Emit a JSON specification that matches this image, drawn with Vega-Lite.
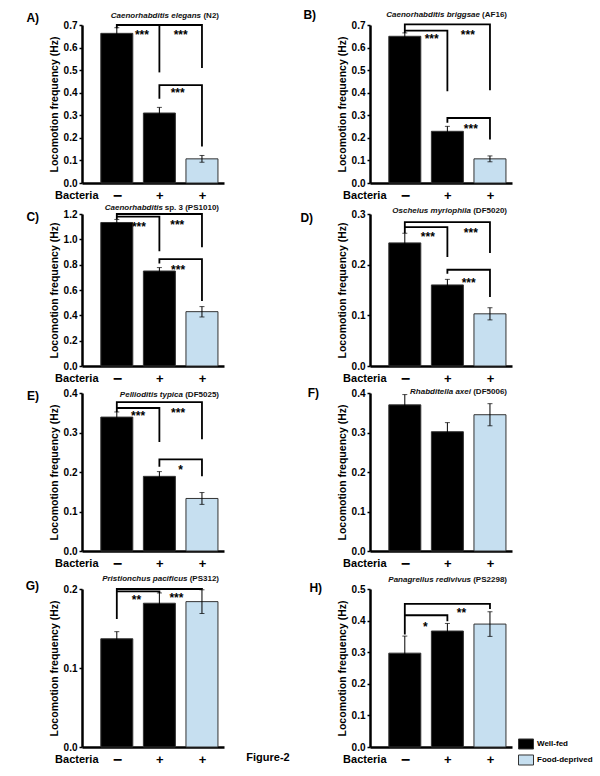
{
"$schema": "https://vega.github.io/schema/vega-lite/v6.json",
"background": "white",
"padding": {"left": 25, "top": 9, "right": 0, "bottom": 0},
"datasets": {
"bars": [
{"p":"A","x":1,"c":"Well-fed","y":0.663,"lo":0.638,"hi":0.688},
{"p":"A","x":2,"c":"Well-fed","y":0.31,"lo":0.285,"hi":0.335},
{"p":"A","x":3,"c":"Food-deprived","y":0.107,"lo":0.092,"hi":0.122},
{"p":"B","x":1,"c":"Well-fed","y":0.65,"lo":0.635,"hi":0.665},
{"p":"B","x":2,"c":"Well-fed","y":0.229,"lo":0.207,"hi":0.251},
{"p":"B","x":3,"c":"Food-deprived","y":0.107,"lo":0.094,"hi":0.12},
{"p":"C","x":1,"c":"Well-fed","y":1.133,"lo":1.109,"hi":1.157},
{"p":"C","x":2,"c":"Well-fed","y":0.75,"lo":0.723,"hi":0.777},
{"p":"C","x":3,"c":"Food-deprived","y":0.429,"lo":0.387,"hi":0.469},
{"p":"D","x":1,"c":"Well-fed","y":0.243,"lo":0.224,"hi":0.262},
{"p":"D","x":2,"c":"Well-fed","y":0.16,"lo":0.149,"hi":0.171},
{"p":"D","x":3,"c":"Food-deprived","y":0.103,"lo":0.091,"hi":0.115},
{"p":"E","x":1,"c":"Well-fed","y":0.339,"lo":0.326,"hi":0.352},
{"p":"E","x":2,"c":"Well-fed","y":0.189,"lo":0.177,"hi":0.201},
{"p":"E","x":3,"c":"Food-deprived","y":0.133,"lo":0.118,"hi":0.148},
{"p":"F","x":1,"c":"Well-fed","y":0.37,"lo":0.344,"hi":0.396},
{"p":"F","x":2,"c":"Well-fed","y":0.302,"lo":0.28,"hi":0.325},
{"p":"F","x":3,"c":"Food-deprived","y":0.345,"lo":0.317,"hi":0.373},
{"p":"G","x":1,"c":"Well-fed","y":0.137,"lo":0.128,"hi":0.146},
{"p":"G","x":2,"c":"Well-fed","y":0.182,"lo":0.169,"hi":0.195},
{"p":"G","x":3,"c":"Food-deprived","y":0.184,"lo":0.169,"hi":0.199},
{"p":"H","x":1,"c":"Well-fed","y":0.297,"lo":0.243,"hi":0.351},
{"p":"H","x":2,"c":"Well-fed","y":0.367,"lo":0.343,"hi":0.391},
{"p":"H","x":3,"c":"Food-deprived","y":0.389,"lo":0.35,"hi":0.428}
],
"brackets": [
{"p":"A","s":1,"o":1,"x":1,"y":0.686},{"p":"A","s":1,"o":2,"x":1,"y":0.7},{"p":"A","s":1,"o":3,"x":3,"y":0.7},{"p":"A","s":1,"o":4,"x":3,"y":0.51},
{"p":"A","s":2,"o":1,"x":2,"y":0.7},{"p":"A","s":2,"o":2,"x":2,"y":0.49},
{"p":"A","s":3,"o":1,"x":2,"y":0.373},{"p":"A","s":3,"o":2,"x":2,"y":0.434},{"p":"A","s":3,"o":3,"x":3,"y":0.434},{"p":"A","s":3,"o":4,"x":3,"y":0.162},
{"p":"B","s":1,"o":1,"x":1,"y":0.665},{"p":"B","s":1,"o":2,"x":1,"y":0.703},{"p":"B","s":1,"o":3,"x":3,"y":0.703},{"p":"B","s":1,"o":4,"x":3,"y":0.411},
{"p":"B","s":2,"o":1,"x":1,"y":0.675},{"p":"B","s":2,"o":2,"x":2,"y":0.675},{"p":"B","s":2,"o":3,"x":2,"y":0.407},
{"p":"B","s":3,"o":1,"x":2,"y":0.267},{"p":"B","s":3,"o":2,"x":2,"y":0.288},{"p":"B","s":3,"o":3,"x":3,"y":0.288},{"p":"B","s":3,"o":4,"x":3,"y":0.193},
{"p":"C","s":1,"o":1,"x":1,"y":1.157},{"p":"C","s":1,"o":2,"x":1,"y":1.2},{"p":"C","s":1,"o":3,"x":3,"y":1.2},{"p":"C","s":1,"o":4,"x":3,"y":0.938},
{"p":"C","s":2,"o":1,"x":1,"y":1.18},{"p":"C","s":2,"o":2,"x":2,"y":1.18},{"p":"C","s":2,"o":3,"x":2,"y":0.906},
{"p":"C","s":3,"o":1,"x":2,"y":0.809},{"p":"C","s":3,"o":2,"x":2,"y":0.844},{"p":"C","s":3,"o":3,"x":3,"y":0.844},{"p":"C","s":3,"o":4,"x":3,"y":0.514},
{"p":"D","s":1,"o":1,"x":1,"y":0.262},{"p":"D","s":1,"o":2,"x":1,"y":0.284},{"p":"D","s":1,"o":3,"x":3,"y":0.284},{"p":"D","s":1,"o":4,"x":3,"y":0.223},
{"p":"D","s":2,"o":1,"x":1,"y":0.274},{"p":"D","s":2,"o":2,"x":2,"y":0.274},{"p":"D","s":2,"o":3,"x":2,"y":0.215},
{"p":"D","s":3,"o":1,"x":2,"y":0.182},{"p":"D","s":3,"o":2,"x":2,"y":0.19},{"p":"D","s":3,"o":3,"x":3,"y":0.19},{"p":"D","s":3,"o":4,"x":3,"y":0.136},
{"p":"E","s":1,"o":1,"x":1,"y":0.352},{"p":"E","s":1,"o":2,"x":1,"y":0.377},{"p":"E","s":1,"o":3,"x":3,"y":0.377},{"p":"E","s":1,"o":4,"x":3,"y":0.283},
{"p":"E","s":2,"o":1,"x":1,"y":0.362},{"p":"E","s":2,"o":2,"x":2,"y":0.362},{"p":"E","s":2,"o":3,"x":2,"y":0.276},
{"p":"E","s":3,"o":1,"x":2,"y":0.213},{"p":"E","s":3,"o":2,"x":2,"y":0.232},{"p":"E","s":3,"o":3,"x":3,"y":0.232},{"p":"E","s":3,"o":4,"x":3,"y":0.189},
{"p":"G","s":1,"o":1,"x":1,"y":0.162},{"p":"G","s":1,"o":2,"x":1,"y":0.2},{"p":"G","s":1,"o":3,"x":3,"y":0.2},{"p":"G","s":1,"o":4,"x":3,"y":0.199},
{"p":"G","s":2,"o":1,"x":1,"y":0.197},{"p":"G","s":2,"o":2,"x":2,"y":0.197},{"p":"G","s":2,"o":3,"x":2,"y":0.195},
{"p":"H","s":1,"o":1,"x":1,"y":0.356},{"p":"H","s":1,"o":2,"x":1,"y":0.453},{"p":"H","s":1,"o":3,"x":3,"y":0.453},{"p":"H","s":1,"o":4,"x":3,"y":0.437},
{"p":"H","s":2,"o":1,"x":1,"y":0.417},{"p":"H","s":2,"o":2,"x":2,"y":0.417},{"p":"H","s":2,"o":3,"x":2,"y":0.398}
],
"stars": [
{"p":"A","x":1.59,"y":0.667,"t":"***"},{"p":"A","x":2.5,"y":0.667,"t":"***"},{"p":"A","x":2.43,"y":0.41,"t":"***"},
{"p":"B","x":1.63,"y":0.653,"t":"***"},{"p":"B","x":2.48,"y":0.671,"t":"***"},{"p":"B","x":2.55,"y":0.251,"t":"***"},
{"p":"C","x":1.52,"y":1.125,"t":"***"},{"p":"C","x":2.42,"y":1.133,"t":"***"},{"p":"C","x":2.44,"y":0.782,"t":"***"},
{"p":"D","x":1.54,"y":0.26,"t":"***"},{"p":"D","x":2.55,"y":0.268,"t":"***"},{"p":"D","x":2.5,"y":0.17,"t":"***"},
{"p":"E","x":1.5,"y":0.35,"t":"***"},{"p":"E","x":2.44,"y":0.358,"t":"***"},{"p":"E","x":2.5,"y":0.213,"t":"*"},
{"p":"G","x":1.46,"y":0.19,"t":"**"},{"p":"G","x":2.4,"y":0.193,"t":"***"},
{"p":"H","x":1.48,"y":0.39,"t":"*"},{"p":"H","x":2.33,"y":0.432,"t":"**"}
],
"titles": [
{"p":"A","sp":"Caenorhabditis elegans","st":"(N2)"},
{"p":"B","sp":"Caenorhabditis briggsae","st":"(AF16)"},
{"p":"C","sp":"Caenorhabditis","st":"sp. 3 (PS1010)"},
{"p":"D","sp":"Oscheius myriophila","st":"(DF5020)"},
{"p":"E","sp":"Pellioditis typica","st":"(DF5025)"},
{"p":"F","sp":"Rhabditella axei","st":"(DF5006)"},
{"p":"G","sp":"Pristionchus pacificus","st":"(PS312)"},
{"p":"H","sp":"Panagrellus redivivus","st":"(PS2298)"}
],
"fig": [{"label":"Figure-2"}]
},
"vconcat": [
{"vconcat": [
{"hconcat": [
{"width":142,"height":158,
"title":{"text":"A)","orient":"left","frame":"group","angle":0,"anchor":"end","align":"left","baseline":"middle","dy":-7,"offset":10},
"layer":[
{"data":{"name":"bars"},"transform":[{"filter":"datum.p == 'A'"}],"mark":{"type":"bar","orient":"vertical","size":32,"stroke":"#333","strokeWidth":1},
"encoding":{"x":{"field":"x","type":"quantitative","title":"Bacteria","scale":{"domain":[0.3,3.4],"nice":false,"zero":false},"axis":{"values":[1,2,3],"labelExpr":"datum.value == 1 ? '−' : '+'"}},
"y":{"field":"y","type":"quantitative","title":"Locomotion frequency (Hz)","stack":null,"scale":{"domain":[0,0.7],"nice":false},"axis":{"values":[0,0.1,0.2,0.3,0.4,0.5,0.6,0.7],"tickCount":20,"format":".1f","labelOverlap":false}},
"color":{"field":"c","type":"nominal","scale":{"domain":["Well-fed","Food-deprived"],"range":["#000000","#c6dff0"]},"legend":{"orient":"none","legendX":436,"legendY":711,"title":null,"symbolType":"M-1,-0.667H1V0.667H-1Z","symbolSize":225,"symbolStrokeColor":"#333","symbolStrokeWidth":1,"labelFontSize":8,"labelFontWeight":"bold","labelOffset":3,"rowPadding":0,"padding":0}}}},
{"data":{"name":"bars"},"transform":[{"filter":"datum.p == 'A'"}],"mark":{"type":"rule","color":"#000","strokeWidth":1},"encoding":{"x":{"field":"x","type":"quantitative","title":"Bacteria"},"y":{"field":"lo","type":"quantitative","title":"Locomotion frequency (Hz)"},"y2":{"field":"hi","title":"Locomotion frequency (Hz)"}}},
{"data":{"name":"bars"},"transform":[{"filter":"datum.p == 'A'"}],"mark":{"type":"tick","orient":"horizontal","size":5,"thickness":1,"color":"#000"},"encoding":{"x":{"field":"x","type":"quantitative","title":"Bacteria"},"y":{"field":"lo","type":"quantitative","title":"Locomotion frequency (Hz)"}}},
{"data":{"name":"bars"},"transform":[{"filter":"datum.p == 'A'"}],"mark":{"type":"tick","orient":"horizontal","size":5,"thickness":1,"color":"#000"},"encoding":{"x":{"field":"x","type":"quantitative","title":"Bacteria"},"y":{"field":"hi","type":"quantitative","title":"Locomotion frequency (Hz)"}}},
{"data":{"name":"brackets"},"transform":[{"filter":"datum.p == 'A'"}],"mark":{"type":"line","color":"#000","strokeWidth":1.8,"strokeJoin":"miter"},"encoding":{"x":{"field":"x","type":"quantitative","title":"Bacteria"},"y":{"field":"y","type":"quantitative","title":"Locomotion frequency (Hz)"},"detail":{"field":"s"},"order":{"field":"o"}}},
{"data":{"name":"stars"},"transform":[{"filter":"datum.p == 'A'"}],"mark":{"type":"text","fontSize":12,"fontWeight":"bold","baseline":"middle","dy":3,"color":"#000"},"encoding":{"x":{"field":"x","type":"quantitative","title":"Bacteria"},"y":{"field":"y","type":"quantitative","title":"Locomotion frequency (Hz)"},"text":{"field":"t"}}},
{"data":{"name":"titles"},"transform":[{"filter":"datum.p == 'A'"}],"mark":{"type":"text","fontSize":8,"fontWeight":"bold","fontStyle":"italic","align":"right","baseline":"middle","dx":-18,"dy":-9,"color":"#111"},"encoding":{"x":{"datum":3.4,"type":"quantitative"},"y":{"datum":0.7,"type":"quantitative"},"text":{"field":"sp"}}},
{"data":{"name":"titles"},"transform":[{"filter":"datum.p == 'A'"}],"mark":{"type":"text","fontSize":8,"fontWeight":"bold","align":"right","baseline":"middle","dy":-9,"color":"#111"},"encoding":{"x":{"datum":3.4,"type":"quantitative"},"y":{"datum":0.7,"type":"quantitative"},"text":{"field":"st"}}}
]},
{"width":142,"height":158,
"title":{"text":"B)","orient":"left","frame":"group","angle":0,"anchor":"end","align":"left","baseline":"middle","dy":-10,"offset":21},
"layer":[
{"data":{"name":"bars"},"transform":[{"filter":"datum.p == 'B'"}],"mark":{"type":"bar","orient":"vertical","size":32,"stroke":"#333","strokeWidth":1},
"encoding":{"x":{"field":"x","type":"quantitative","title":"Bacteria","scale":{"domain":[0.3,3.4],"nice":false,"zero":false},"axis":{"values":[1,2,3],"labelExpr":"datum.value == 1 ? '−' : '+'"}},
"y":{"field":"y","type":"quantitative","title":"Locomotion frequency (Hz)","stack":null,"scale":{"domain":[0,0.7],"nice":false},"axis":{"values":[0,0.1,0.2,0.3,0.4,0.5,0.6,0.7],"tickCount":20,"format":".1f","labelOverlap":false}},
"color":{"field":"c","type":"nominal","scale":{"domain":["Well-fed","Food-deprived"],"range":["#000000","#c6dff0"]},"legend":{"orient":"none","legendX":436,"legendY":711,"title":null,"symbolType":"M-1,-0.667H1V0.667H-1Z","symbolSize":225,"symbolStrokeColor":"#333","symbolStrokeWidth":1,"labelFontSize":8,"labelFontWeight":"bold","labelOffset":3,"rowPadding":0,"padding":0}}}},
{"data":{"name":"bars"},"transform":[{"filter":"datum.p == 'B'"}],"mark":{"type":"rule","color":"#000","strokeWidth":1},"encoding":{"x":{"field":"x","type":"quantitative","title":"Bacteria"},"y":{"field":"lo","type":"quantitative","title":"Locomotion frequency (Hz)"},"y2":{"field":"hi","title":"Locomotion frequency (Hz)"}}},
{"data":{"name":"bars"},"transform":[{"filter":"datum.p == 'B'"}],"mark":{"type":"tick","orient":"horizontal","size":5,"thickness":1,"color":"#000"},"encoding":{"x":{"field":"x","type":"quantitative","title":"Bacteria"},"y":{"field":"lo","type":"quantitative","title":"Locomotion frequency (Hz)"}}},
{"data":{"name":"bars"},"transform":[{"filter":"datum.p == 'B'"}],"mark":{"type":"tick","orient":"horizontal","size":5,"thickness":1,"color":"#000"},"encoding":{"x":{"field":"x","type":"quantitative","title":"Bacteria"},"y":{"field":"hi","type":"quantitative","title":"Locomotion frequency (Hz)"}}},
{"data":{"name":"brackets"},"transform":[{"filter":"datum.p == 'B'"}],"mark":{"type":"line","color":"#000","strokeWidth":1.8,"strokeJoin":"miter"},"encoding":{"x":{"field":"x","type":"quantitative","title":"Bacteria"},"y":{"field":"y","type":"quantitative","title":"Locomotion frequency (Hz)"},"detail":{"field":"s"},"order":{"field":"o"}}},
{"data":{"name":"stars"},"transform":[{"filter":"datum.p == 'B'"}],"mark":{"type":"text","fontSize":12,"fontWeight":"bold","baseline":"middle","dy":3,"color":"#000"},"encoding":{"x":{"field":"x","type":"quantitative","title":"Bacteria"},"y":{"field":"y","type":"quantitative","title":"Locomotion frequency (Hz)"},"text":{"field":"t"}}},
{"data":{"name":"titles"},"transform":[{"filter":"datum.p == 'B'"}],"mark":{"type":"text","fontSize":8,"fontWeight":"bold","fontStyle":"italic","align":"right","baseline":"middle","dx":-27,"dy":-10,"color":"#111"},"encoding":{"x":{"datum":3.4,"type":"quantitative"},"y":{"datum":0.7,"type":"quantitative"},"text":{"field":"sp"}}},
{"data":{"name":"titles"},"transform":[{"filter":"datum.p == 'B'"}],"mark":{"type":"text","fontSize":8,"fontWeight":"bold","align":"right","baseline":"middle","dy":-10,"color":"#111"},"encoding":{"x":{"datum":3.4,"type":"quantitative"},"y":{"datum":0.7,"type":"quantitative"},"text":{"field":"st"}}}
]}
],"spacing":146,"bounds":"flush"},
{"hconcat": [
{"width":142,"height":152,
"title":{"text":"C)","orient":"left","frame":"group","angle":0,"anchor":"end","align":"left","baseline":"middle","dy":3,"offset":10},
"layer":[
{"data":{"name":"bars"},"transform":[{"filter":"datum.p == 'C'"}],"mark":{"type":"bar","orient":"vertical","size":32,"stroke":"#333","strokeWidth":1},
"encoding":{"x":{"field":"x","type":"quantitative","title":"Bacteria","scale":{"domain":[0.3,3.4],"nice":false,"zero":false},"axis":{"values":[1,2,3],"labelExpr":"datum.value == 1 ? '−' : '+'"}},
"y":{"field":"y","type":"quantitative","title":"Locomotion frequency (Hz)","stack":null,"scale":{"domain":[0,1.2],"nice":false},"axis":{"values":[0,0.2,0.4,0.6,0.8,1.0,1.2],"tickCount":20,"format":".1f","labelOverlap":false}},
"color":{"field":"c","type":"nominal","scale":{"domain":["Well-fed","Food-deprived"],"range":["#000000","#c6dff0"]},"legend":{"orient":"none","legendX":436,"legendY":711,"title":null,"symbolType":"M-1,-0.667H1V0.667H-1Z","symbolSize":225,"symbolStrokeColor":"#333","symbolStrokeWidth":1,"labelFontSize":8,"labelFontWeight":"bold","labelOffset":3,"rowPadding":0,"padding":0}}}},
{"data":{"name":"bars"},"transform":[{"filter":"datum.p == 'C'"}],"mark":{"type":"rule","color":"#000","strokeWidth":1},"encoding":{"x":{"field":"x","type":"quantitative","title":"Bacteria"},"y":{"field":"lo","type":"quantitative","title":"Locomotion frequency (Hz)"},"y2":{"field":"hi","title":"Locomotion frequency (Hz)"}}},
{"data":{"name":"bars"},"transform":[{"filter":"datum.p == 'C'"}],"mark":{"type":"tick","orient":"horizontal","size":5,"thickness":1,"color":"#000"},"encoding":{"x":{"field":"x","type":"quantitative","title":"Bacteria"},"y":{"field":"lo","type":"quantitative","title":"Locomotion frequency (Hz)"}}},
{"data":{"name":"bars"},"transform":[{"filter":"datum.p == 'C'"}],"mark":{"type":"tick","orient":"horizontal","size":5,"thickness":1,"color":"#000"},"encoding":{"x":{"field":"x","type":"quantitative","title":"Bacteria"},"y":{"field":"hi","type":"quantitative","title":"Locomotion frequency (Hz)"}}},
{"data":{"name":"brackets"},"transform":[{"filter":"datum.p == 'C'"}],"mark":{"type":"line","color":"#000","strokeWidth":1.8,"strokeJoin":"miter"},"encoding":{"x":{"field":"x","type":"quantitative","title":"Bacteria"},"y":{"field":"y","type":"quantitative","title":"Locomotion frequency (Hz)"},"detail":{"field":"s"},"order":{"field":"o"}}},
{"data":{"name":"stars"},"transform":[{"filter":"datum.p == 'C'"}],"mark":{"type":"text","fontSize":12,"fontWeight":"bold","baseline":"middle","dy":3,"color":"#000"},"encoding":{"x":{"field":"x","type":"quantitative","title":"Bacteria"},"y":{"field":"y","type":"quantitative","title":"Locomotion frequency (Hz)"},"text":{"field":"t"}}},
{"data":{"name":"titles"},"transform":[{"filter":"datum.p == 'C'"}],"mark":{"type":"text","fontSize":8,"fontWeight":"bold","fontStyle":"italic","align":"right","baseline":"middle","dx":-56,"dy":-6,"color":"#111"},"encoding":{"x":{"datum":3.4,"type":"quantitative"},"y":{"datum":1.2,"type":"quantitative"},"text":{"field":"sp"}}},
{"data":{"name":"titles"},"transform":[{"filter":"datum.p == 'C'"}],"mark":{"type":"text","fontSize":8,"fontWeight":"bold","align":"right","baseline":"middle","dy":-6,"color":"#111"},"encoding":{"x":{"datum":3.4,"type":"quantitative"},"y":{"datum":1.2,"type":"quantitative"},"text":{"field":"st"}}}
]},
{"width":142,"height":152,
"title":{"text":"D)","orient":"left","frame":"group","angle":0,"anchor":"end","align":"left","baseline":"middle","dy":4,"offset":24},
"layer":[
{"data":{"name":"bars"},"transform":[{"filter":"datum.p == 'D'"}],"mark":{"type":"bar","orient":"vertical","size":32,"stroke":"#333","strokeWidth":1},
"encoding":{"x":{"field":"x","type":"quantitative","title":"Bacteria","scale":{"domain":[0.3,3.4],"nice":false,"zero":false},"axis":{"values":[1,2,3],"labelExpr":"datum.value == 1 ? '−' : '+'"}},
"y":{"field":"y","type":"quantitative","title":"Locomotion frequency (Hz)","stack":null,"scale":{"domain":[0,0.3],"nice":false},"axis":{"values":[0,0.1,0.2,0.3],"tickCount":20,"format":".1f","labelOverlap":false}},
"color":{"field":"c","type":"nominal","scale":{"domain":["Well-fed","Food-deprived"],"range":["#000000","#c6dff0"]},"legend":{"orient":"none","legendX":436,"legendY":711,"title":null,"symbolType":"M-1,-0.667H1V0.667H-1Z","symbolSize":225,"symbolStrokeColor":"#333","symbolStrokeWidth":1,"labelFontSize":8,"labelFontWeight":"bold","labelOffset":3,"rowPadding":0,"padding":0}}}},
{"data":{"name":"bars"},"transform":[{"filter":"datum.p == 'D'"}],"mark":{"type":"rule","color":"#000","strokeWidth":1},"encoding":{"x":{"field":"x","type":"quantitative","title":"Bacteria"},"y":{"field":"lo","type":"quantitative","title":"Locomotion frequency (Hz)"},"y2":{"field":"hi","title":"Locomotion frequency (Hz)"}}},
{"data":{"name":"bars"},"transform":[{"filter":"datum.p == 'D'"}],"mark":{"type":"tick","orient":"horizontal","size":5,"thickness":1,"color":"#000"},"encoding":{"x":{"field":"x","type":"quantitative","title":"Bacteria"},"y":{"field":"lo","type":"quantitative","title":"Locomotion frequency (Hz)"}}},
{"data":{"name":"bars"},"transform":[{"filter":"datum.p == 'D'"}],"mark":{"type":"tick","orient":"horizontal","size":5,"thickness":1,"color":"#000"},"encoding":{"x":{"field":"x","type":"quantitative","title":"Bacteria"},"y":{"field":"hi","type":"quantitative","title":"Locomotion frequency (Hz)"}}},
{"data":{"name":"brackets"},"transform":[{"filter":"datum.p == 'D'"}],"mark":{"type":"line","color":"#000","strokeWidth":1.8,"strokeJoin":"miter"},"encoding":{"x":{"field":"x","type":"quantitative","title":"Bacteria"},"y":{"field":"y","type":"quantitative","title":"Locomotion frequency (Hz)"},"detail":{"field":"s"},"order":{"field":"o"}}},
{"data":{"name":"stars"},"transform":[{"filter":"datum.p == 'D'"}],"mark":{"type":"text","fontSize":12,"fontWeight":"bold","baseline":"middle","dy":3,"color":"#000"},"encoding":{"x":{"field":"x","type":"quantitative","title":"Bacteria"},"y":{"field":"y","type":"quantitative","title":"Locomotion frequency (Hz)"},"text":{"field":"t"}}},
{"data":{"name":"titles"},"transform":[{"filter":"datum.p == 'D'"}],"mark":{"type":"text","fontSize":8,"fontWeight":"bold","fontStyle":"italic","align":"right","baseline":"middle","dx":-36,"dy":-3,"color":"#111"},"encoding":{"x":{"datum":3.4,"type":"quantitative"},"y":{"datum":0.3,"type":"quantitative"},"text":{"field":"sp"}}},
{"data":{"name":"titles"},"transform":[{"filter":"datum.p == 'D'"}],"mark":{"type":"text","fontSize":8,"fontWeight":"bold","align":"right","baseline":"middle","dy":-3,"color":"#111"},"encoding":{"x":{"datum":3.4,"type":"quantitative"},"y":{"datum":0.3,"type":"quantitative"},"text":{"field":"st"}}}
]}
],"spacing":146,"bounds":"flush"},
{"hconcat": [
{"width":142,"height":158,
"title":{"text":"E)","orient":"left","frame":"group","angle":0,"anchor":"end","align":"left","baseline":"middle","dy":3,"offset":10},
"layer":[
{"data":{"name":"bars"},"transform":[{"filter":"datum.p == 'E'"}],"mark":{"type":"bar","orient":"vertical","size":32,"stroke":"#333","strokeWidth":1},
"encoding":{"x":{"field":"x","type":"quantitative","title":"Bacteria","scale":{"domain":[0.3,3.4],"nice":false,"zero":false},"axis":{"values":[1,2,3],"labelExpr":"datum.value == 1 ? '−' : '+'"}},
"y":{"field":"y","type":"quantitative","title":"Locomotion frequency (Hz)","stack":null,"scale":{"domain":[0,0.4],"nice":false},"axis":{"values":[0,0.1,0.2,0.3,0.4],"tickCount":20,"format":".1f","labelOverlap":false}},
"color":{"field":"c","type":"nominal","scale":{"domain":["Well-fed","Food-deprived"],"range":["#000000","#c6dff0"]},"legend":{"orient":"none","legendX":436,"legendY":711,"title":null,"symbolType":"M-1,-0.667H1V0.667H-1Z","symbolSize":225,"symbolStrokeColor":"#333","symbolStrokeWidth":1,"labelFontSize":8,"labelFontWeight":"bold","labelOffset":3,"rowPadding":0,"padding":0}}}},
{"data":{"name":"bars"},"transform":[{"filter":"datum.p == 'E'"}],"mark":{"type":"rule","color":"#000","strokeWidth":1},"encoding":{"x":{"field":"x","type":"quantitative","title":"Bacteria"},"y":{"field":"lo","type":"quantitative","title":"Locomotion frequency (Hz)"},"y2":{"field":"hi","title":"Locomotion frequency (Hz)"}}},
{"data":{"name":"bars"},"transform":[{"filter":"datum.p == 'E'"}],"mark":{"type":"tick","orient":"horizontal","size":5,"thickness":1,"color":"#000"},"encoding":{"x":{"field":"x","type":"quantitative","title":"Bacteria"},"y":{"field":"lo","type":"quantitative","title":"Locomotion frequency (Hz)"}}},
{"data":{"name":"bars"},"transform":[{"filter":"datum.p == 'E'"}],"mark":{"type":"tick","orient":"horizontal","size":5,"thickness":1,"color":"#000"},"encoding":{"x":{"field":"x","type":"quantitative","title":"Bacteria"},"y":{"field":"hi","type":"quantitative","title":"Locomotion frequency (Hz)"}}},
{"data":{"name":"brackets"},"transform":[{"filter":"datum.p == 'E'"}],"mark":{"type":"line","color":"#000","strokeWidth":1.8,"strokeJoin":"miter"},"encoding":{"x":{"field":"x","type":"quantitative","title":"Bacteria"},"y":{"field":"y","type":"quantitative","title":"Locomotion frequency (Hz)"},"detail":{"field":"s"},"order":{"field":"o"}}},
{"data":{"name":"stars"},"transform":[{"filter":"datum.p == 'E'"}],"mark":{"type":"text","fontSize":12,"fontWeight":"bold","baseline":"middle","dy":3,"color":"#000"},"encoding":{"x":{"field":"x","type":"quantitative","title":"Bacteria"},"y":{"field":"y","type":"quantitative","title":"Locomotion frequency (Hz)"},"text":{"field":"t"}}},
{"data":{"name":"titles"},"transform":[{"filter":"datum.p == 'E'"}],"mark":{"type":"text","fontSize":8,"fontWeight":"bold","fontStyle":"italic","align":"right","baseline":"middle","dx":-36,"dy":2,"color":"#111"},"encoding":{"x":{"datum":3.4,"type":"quantitative"},"y":{"datum":0.4,"type":"quantitative"},"text":{"field":"sp"}}},
{"data":{"name":"titles"},"transform":[{"filter":"datum.p == 'E'"}],"mark":{"type":"text","fontSize":8,"fontWeight":"bold","align":"right","baseline":"middle","dy":2,"color":"#111"},"encoding":{"x":{"datum":3.4,"type":"quantitative"},"y":{"datum":0.4,"type":"quantitative"},"text":{"field":"st"}}}
]},
{"width":142,"height":158,
"title":{"text":"F)","orient":"left","frame":"group","angle":0,"anchor":"end","align":"left","baseline":"middle","dy":0,"offset":18},
"layer":[
{"data":{"name":"bars"},"transform":[{"filter":"datum.p == 'F'"}],"mark":{"type":"bar","orient":"vertical","size":32,"stroke":"#333","strokeWidth":1},
"encoding":{"x":{"field":"x","type":"quantitative","title":"Bacteria","scale":{"domain":[0.3,3.4],"nice":false,"zero":false},"axis":{"values":[1,2,3],"labelExpr":"datum.value == 1 ? '−' : '+'"}},
"y":{"field":"y","type":"quantitative","title":"Locomotion frequency (Hz)","stack":null,"scale":{"domain":[0,0.4],"nice":false},"axis":{"values":[0,0.1,0.2,0.3,0.4],"tickCount":20,"format":".1f","labelOverlap":false}},
"color":{"field":"c","type":"nominal","scale":{"domain":["Well-fed","Food-deprived"],"range":["#000000","#c6dff0"]},"legend":{"orient":"none","legendX":436,"legendY":711,"title":null,"symbolType":"M-1,-0.667H1V0.667H-1Z","symbolSize":225,"symbolStrokeColor":"#333","symbolStrokeWidth":1,"labelFontSize":8,"labelFontWeight":"bold","labelOffset":3,"rowPadding":0,"padding":0}}}},
{"data":{"name":"bars"},"transform":[{"filter":"datum.p == 'F'"}],"mark":{"type":"rule","color":"#000","strokeWidth":1},"encoding":{"x":{"field":"x","type":"quantitative","title":"Bacteria"},"y":{"field":"lo","type":"quantitative","title":"Locomotion frequency (Hz)"},"y2":{"field":"hi","title":"Locomotion frequency (Hz)"}}},
{"data":{"name":"bars"},"transform":[{"filter":"datum.p == 'F'"}],"mark":{"type":"tick","orient":"horizontal","size":5,"thickness":1,"color":"#000"},"encoding":{"x":{"field":"x","type":"quantitative","title":"Bacteria"},"y":{"field":"lo","type":"quantitative","title":"Locomotion frequency (Hz)"}}},
{"data":{"name":"bars"},"transform":[{"filter":"datum.p == 'F'"}],"mark":{"type":"tick","orient":"horizontal","size":5,"thickness":1,"color":"#000"},"encoding":{"x":{"field":"x","type":"quantitative","title":"Bacteria"},"y":{"field":"hi","type":"quantitative","title":"Locomotion frequency (Hz)"}}},
{"data":{"name":"titles"},"transform":[{"filter":"datum.p == 'F'"}],"mark":{"type":"text","fontSize":8,"fontWeight":"bold","fontStyle":"italic","align":"right","baseline":"middle","dx":-36,"dy":-1,"color":"#111"},"encoding":{"x":{"datum":3.4,"type":"quantitative"},"y":{"datum":0.4,"type":"quantitative"},"text":{"field":"sp"}}},
{"data":{"name":"titles"},"transform":[{"filter":"datum.p == 'F'"}],"mark":{"type":"text","fontSize":8,"fontWeight":"bold","align":"right","baseline":"middle","dy":-1,"color":"#111"},"encoding":{"x":{"datum":3.4,"type":"quantitative"},"y":{"datum":0.4,"type":"quantitative"},"text":{"field":"st"}}}
]}
],"spacing":146,"bounds":"flush"}
],"spacing":1},
{"hconcat": [
{"width":142,"height":158,
"title":{"text":"G)","orient":"left","frame":"group","angle":0,"anchor":"end","align":"left","baseline":"middle","dy":-3,"offset":10},
"layer":[
{"data":{"name":"bars"},"transform":[{"filter":"datum.p == 'G'"}],"mark":{"type":"bar","orient":"vertical","size":32,"stroke":"#333","strokeWidth":1},
"encoding":{"x":{"field":"x","type":"quantitative","title":"Bacteria","scale":{"domain":[0.3,3.4],"nice":false,"zero":false},"axis":{"values":[1,2,3],"labelExpr":"datum.value == 1 ? '−' : '+'"}},
"y":{"field":"y","type":"quantitative","title":"Locomotion frequency (Hz)","stack":null,"scale":{"domain":[0,0.2],"nice":false},"axis":{"values":[0,0.1,0.2],"tickCount":20,"format":".1f","labelOverlap":false}},
"color":{"field":"c","type":"nominal","scale":{"domain":["Well-fed","Food-deprived"],"range":["#000000","#c6dff0"]},"legend":{"orient":"none","legendX":436,"legendY":711,"title":null,"symbolType":"M-1,-0.667H1V0.667H-1Z","symbolSize":225,"symbolStrokeColor":"#333","symbolStrokeWidth":1,"labelFontSize":8,"labelFontWeight":"bold","labelOffset":3,"rowPadding":0,"padding":0}}}},
{"data":{"name":"bars"},"transform":[{"filter":"datum.p == 'G'"}],"mark":{"type":"rule","color":"#000","strokeWidth":1},"encoding":{"x":{"field":"x","type":"quantitative","title":"Bacteria"},"y":{"field":"lo","type":"quantitative","title":"Locomotion frequency (Hz)"},"y2":{"field":"hi","title":"Locomotion frequency (Hz)"}}},
{"data":{"name":"bars"},"transform":[{"filter":"datum.p == 'G'"}],"mark":{"type":"tick","orient":"horizontal","size":5,"thickness":1,"color":"#000"},"encoding":{"x":{"field":"x","type":"quantitative","title":"Bacteria"},"y":{"field":"lo","type":"quantitative","title":"Locomotion frequency (Hz)"}}},
{"data":{"name":"bars"},"transform":[{"filter":"datum.p == 'G'"}],"mark":{"type":"tick","orient":"horizontal","size":5,"thickness":1,"color":"#000"},"encoding":{"x":{"field":"x","type":"quantitative","title":"Bacteria"},"y":{"field":"hi","type":"quantitative","title":"Locomotion frequency (Hz)"}}},
{"data":{"name":"brackets"},"transform":[{"filter":"datum.p == 'G'"}],"mark":{"type":"line","color":"#000","strokeWidth":1.8,"strokeJoin":"miter"},"encoding":{"x":{"field":"x","type":"quantitative","title":"Bacteria"},"y":{"field":"y","type":"quantitative","title":"Locomotion frequency (Hz)"},"detail":{"field":"s"},"order":{"field":"o"}}},
{"data":{"name":"stars"},"transform":[{"filter":"datum.p == 'G'"}],"mark":{"type":"text","fontSize":12,"fontWeight":"bold","baseline":"middle","dy":3,"color":"#000"},"encoding":{"x":{"field":"x","type":"quantitative","title":"Bacteria"},"y":{"field":"y","type":"quantitative","title":"Locomotion frequency (Hz)"},"text":{"field":"t"}}},
{"data":{"name":"titles"},"transform":[{"filter":"datum.p == 'G'"}],"mark":{"type":"text","fontSize":8,"fontWeight":"bold","fontStyle":"italic","align":"right","baseline":"middle","dx":-31.5,"dy":-10,"color":"#111"},"encoding":{"x":{"datum":3.4,"type":"quantitative"},"y":{"datum":0.2,"type":"quantitative"},"text":{"field":"sp"}}},
{"data":{"name":"titles"},"transform":[{"filter":"datum.p == 'G'"}],"mark":{"type":"text","fontSize":8,"fontWeight":"bold","align":"right","baseline":"middle","dy":-10,"color":"#111"},"encoding":{"x":{"datum":3.4,"type":"quantitative"},"y":{"datum":0.2,"type":"quantitative"},"text":{"field":"st"}}},
{"data":{"name":"fig"},"mark":{"type":"text","fontSize":11,"fontWeight":"bold","align":"center","baseline":"middle","color":"#000"},"encoding":{"x":{"datum":4.55,"type":"quantitative"},"y":{"datum":-0.014,"type":"quantitative"},"text":{"field":"label"}}}
]},
{"width":142,"height":158,
"title":{"text":"H)","orient":"left","frame":"group","angle":0,"anchor":"end","align":"left","baseline":"middle","dy":-1,"offset":15},
"layer":[
{"data":{"name":"bars"},"transform":[{"filter":"datum.p == 'H'"}],"mark":{"type":"bar","orient":"vertical","size":32,"stroke":"#333","strokeWidth":1},
"encoding":{"x":{"field":"x","type":"quantitative","title":"Bacteria","scale":{"domain":[0.3,3.4],"nice":false,"zero":false},"axis":{"values":[1,2,3],"labelExpr":"datum.value == 1 ? '−' : '+'"}},
"y":{"field":"y","type":"quantitative","title":"Locomotion frequency (Hz)","stack":null,"scale":{"domain":[0,0.5],"nice":false},"axis":{"values":[0,0.1,0.2,0.3,0.4,0.5],"tickCount":20,"format":".1f","labelOverlap":false}},
"color":{"field":"c","type":"nominal","scale":{"domain":["Well-fed","Food-deprived"],"range":["#000000","#c6dff0"]},"legend":{"orient":"none","legendX":436,"legendY":711,"title":null,"symbolType":"M-1,-0.667H1V0.667H-1Z","symbolSize":225,"symbolStrokeColor":"#333","symbolStrokeWidth":1,"labelFontSize":8,"labelFontWeight":"bold","labelOffset":3,"rowPadding":0,"padding":0}}}},
{"data":{"name":"bars"},"transform":[{"filter":"datum.p == 'H'"}],"mark":{"type":"rule","color":"#000","strokeWidth":1},"encoding":{"x":{"field":"x","type":"quantitative","title":"Bacteria"},"y":{"field":"lo","type":"quantitative","title":"Locomotion frequency (Hz)"},"y2":{"field":"hi","title":"Locomotion frequency (Hz)"}}},
{"data":{"name":"bars"},"transform":[{"filter":"datum.p == 'H'"}],"mark":{"type":"tick","orient":"horizontal","size":5,"thickness":1,"color":"#000"},"encoding":{"x":{"field":"x","type":"quantitative","title":"Bacteria"},"y":{"field":"lo","type":"quantitative","title":"Locomotion frequency (Hz)"}}},
{"data":{"name":"bars"},"transform":[{"filter":"datum.p == 'H'"}],"mark":{"type":"tick","orient":"horizontal","size":5,"thickness":1,"color":"#000"},"encoding":{"x":{"field":"x","type":"quantitative","title":"Bacteria"},"y":{"field":"hi","type":"quantitative","title":"Locomotion frequency (Hz)"}}},
{"data":{"name":"brackets"},"transform":[{"filter":"datum.p == 'H'"}],"mark":{"type":"line","color":"#000","strokeWidth":1.8,"strokeJoin":"miter"},"encoding":{"x":{"field":"x","type":"quantitative","title":"Bacteria"},"y":{"field":"y","type":"quantitative","title":"Locomotion frequency (Hz)"},"detail":{"field":"s"},"order":{"field":"o"}}},
{"data":{"name":"stars"},"transform":[{"filter":"datum.p == 'H'"}],"mark":{"type":"text","fontSize":12,"fontWeight":"bold","baseline":"middle","dy":3,"color":"#000"},"encoding":{"x":{"field":"x","type":"quantitative","title":"Bacteria"},"y":{"field":"y","type":"quantitative","title":"Locomotion frequency (Hz)"},"text":{"field":"t"}}},
{"data":{"name":"titles"},"transform":[{"filter":"datum.p == 'H'"}],"mark":{"type":"text","fontSize":8,"fontWeight":"bold","fontStyle":"italic","align":"right","baseline":"middle","dx":-36,"dy":-9,"color":"#111"},"encoding":{"x":{"datum":3.4,"type":"quantitative"},"y":{"datum":0.5,"type":"quantitative"},"text":{"field":"sp"}}},
{"data":{"name":"titles"},"transform":[{"filter":"datum.p == 'H'"}],"mark":{"type":"text","fontSize":8,"fontWeight":"bold","align":"right","baseline":"middle","dy":-9,"color":"#111"},"encoding":{"x":{"datum":3.4,"type":"quantitative"},"y":{"datum":0.5,"type":"quantitative"},"text":{"field":"st"}}}
]}
],"spacing":146,"bounds":"flush"}
],
"spacing": 4,
"config": {
"view": {"stroke": null},
"font": "Liberation Sans",
"title": {"font": "Liberation Sans", "fontSize": 12, "fontWeight": "bold", "color": "#000"},
"text": {"font": "Liberation Sans"},
"legend": {"labelFont": "Liberation Sans", "labelColor": "#000"},
"axis": {"domainColor": "#000", "domainWidth": 2.5, "labelFont": "Liberation Sans", "labelFontWeight": "bold", "labelColor": "#000", "titleFont": "Liberation Sans", "titleFontWeight": "bold", "titleColor": "#000", "grid": false, "tickColor": "#000"},
"axisY": {"labelFontSize": 10, "tickSize": 3, "tickWidth": 1.5, "labelPadding": 2, "labelOverlap": false, "titleFontSize": 10.5, "titlePadding": 4},
"axisX": {"ticks": false, "tickSize": 0, "labelFontSize": {"condition": {"test": "datum.value == 1", "value": 16}, "value": 13}, "labelPadding": 12, "labelBaseline": "middle", "labelFlush": false, "labelOverlap": false, "titleFontSize": 11, "titleX": 16, "titleY": 12, "titleAlign": "right", "titleBaseline": "middle"}
}
}
